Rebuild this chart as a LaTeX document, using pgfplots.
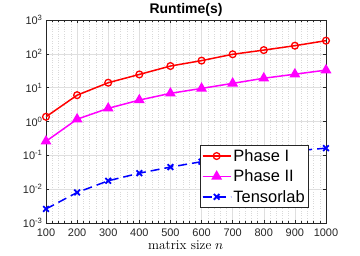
\documentclass[border=0pt]{standalone}
\usepackage{pgfplots}
\pgfplotsset{compat=1.18}
\usepackage{fontspec}
\setmainfont{Liberation Sans}
\usepackage{unicode-math}
\setmathfont{Latin Modern Math}
\definecolor{tickgray}{gray}{0.15}
\definecolor{mred}{rgb}{1,0,0}
\definecolor{mmag}{rgb}{1,0,1}
\definecolor{mblue}{rgb}{0,0,1}
\begin{document}
\begin{tikzpicture}[x=1bp,y=1bp]
\useasboundingbox (-46,-33) rectangle (314,223);
\begin{axis}[
  at={(0,0)}, anchor=south west,
  scale only axis, width=280bp, height=203bp,
  ymode=log, log basis y=10,
  xmin=100, xmax=1000, ymin=1e-3, ymax=1e3,
  xtick={100,200,...,1000},
  ytick={1e-3,1e-2,1e-1,1,1e1,1e2,1e3},
  yticklabels={10\textsuperscript{-3},10\textsuperscript{-2},10\textsuperscript{-1},10\textsuperscript{0},10\textsuperscript{1},10\textsuperscript{2},10\textsuperscript{3}},
  minor x tick num=4,
  /pgf/number format/assume math mode=true,
  /pgf/number format/set thousands separator={},
  tick label style={font=\fontsize{11}{13}\selectfont, text=tickgray},
  xticklabel style={yshift=-2bp},
  grid=both,
  major grid style={gray!25, line width=0.5pt},
  minor grid style={gray!30, dotted, line width=0.4pt},
  axis line style={tickgray, line width=0.5pt},
  tick style={tickgray, line width=0.5pt},
  major tick length=3bp, minor tick length=1.6bp,
  title={\fontsize{14}{16}\selectfont\bfseries Runtime(s)},
  title style={yshift=-6bp},
  xlabel={\fontfamily{lmr}\selectfont\fontsize{13.5}{15}\selectfont matrix size $n$},
  xlabel style={yshift=2bp},
  legend style={at={(0.939,0.075)}, anchor=south east, font=\fontsize{16.5}{19}\selectfont,
    draw=tickgray, line width=0.5pt, row sep=3bp, inner sep=2bp},
  legend cell align=left,
  legend image code/.code={\draw[#1] (0bp,0bp) -- (14bp,0bp); \draw[#1, mark repeat=2, mark phase=2] plot coordinates {(0bp,0bp) (14bp,0bp) (28bp,0bp)}; \draw[#1] (14bp,0bp) -- (28bp,0bp);},
]
\addplot[mred, line width=1.5pt, mark=o, mark size=3.4bp, mark options={solid, line width=1.3pt}] coordinates {
(100,1.38) (200,6.0) (300,14) (400,24.6) (500,43.6) (600,63) (700,97) (800,129) (900,174) (1000,245)};
\addlegendentry{Phase I}
\addplot[mmag, line width=1.5pt, mark=triangle*, mark size=4.8bp, mark options={solid}] coordinates {
(100,0.26) (200,1.17) (300,2.45) (400,4.3) (500,6.8) (600,9.5) (700,13.4) (800,19) (900,25) (1000,33)};
\addlegendentry{Phase II}
\addplot[mblue, line width=1.5pt, dash pattern=on 9bp off 5bp, mark=x, mark size=4bp, mark options={solid, line width=1.8pt}] coordinates {
(100,0.0026) (200,0.008) (300,0.0177) (400,0.0297) (500,0.045) (600,0.065) (700,0.085) (800,0.11) (900,0.135) (1000,0.163)};
\addlegendentry{Tensorlab}
\end{axis}
\end{tikzpicture}
\end{document}
